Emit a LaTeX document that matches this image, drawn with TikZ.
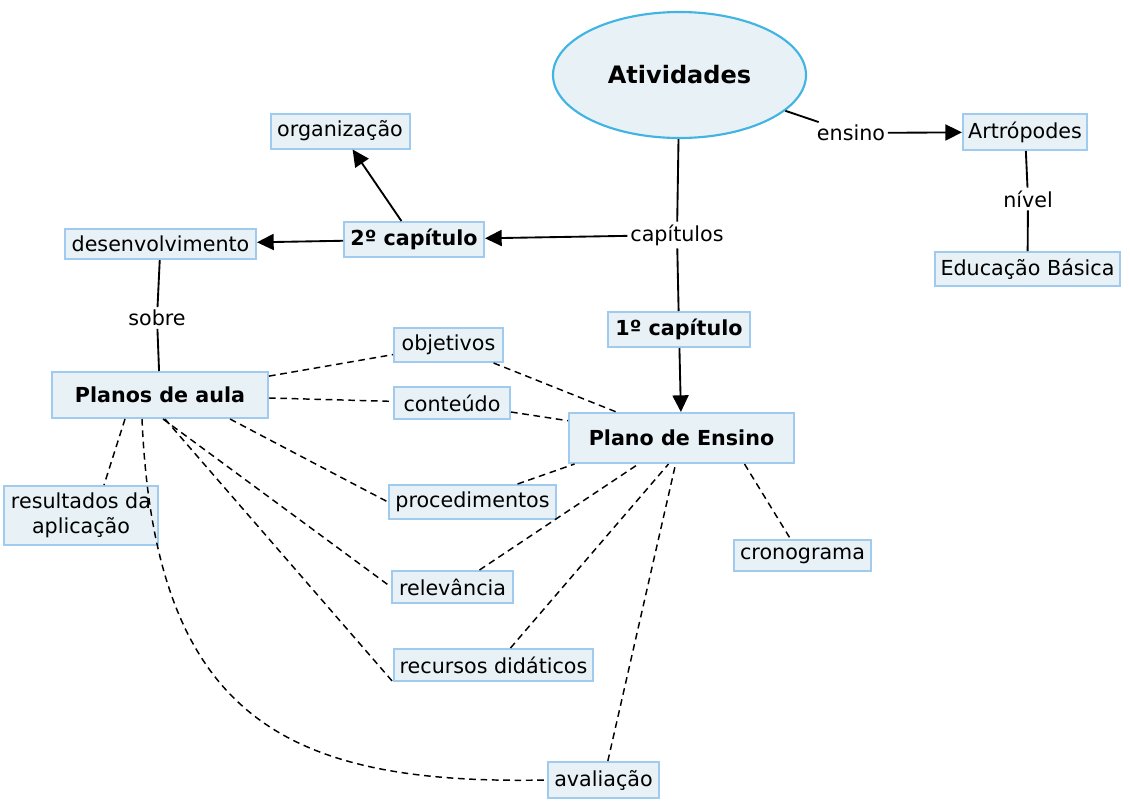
\documentclass[tikz,border=0pt]{standalone}
\usepackage{fontspec}
\setmainfont{DejaVu Sans}
\usetikzlibrary{arrows.meta,shapes.geometric}
\definecolor{boxfill}{HTML}{E8F1F5}
\definecolor{boxline}{HTML}{A0CBEE}
\definecolor{elline}{HTML}{40B4E2}
\begin{document}
\begin{tikzpicture}[x=0.75pt,y=-0.75pt,
  font=\fontsize{15.5}{18.5}\selectfont,
  box/.style={draw=boxline, fill=boxfill, line width=1.5pt, inner sep=0pt, align=center},
  sz/.style 2 args={minimum width=#1*0.75pt, minimum height=#2*0.75pt},
  bf/.style={font=\fontsize{15.5}{18.5}\selectfont\bfseries},
  lbl/.style={inner sep=2pt},
  con/.style={line width=1.4pt},
  arr/.style={con, -{Triangle[length=12.5pt,width=12pt]}},
  dsh/.style={line width=1.1pt, dash pattern=on 5pt off 3.5pt}
]
\useasboundingbox (0,0) rectangle (1130,800);

% nodes
\node[ellipse, draw=elline, fill=boxfill, line width=1.6pt, inner sep=0pt,
      sz={253}{126}, font=\fontsize{18}{21}\selectfont\bfseries] (ativ) at (679.5,75) {Atividades};
\node[box, sz={124}{36}] (art) at (1025,132) {Artrópodes};
\node[box, sz={185}{34}] (edu) at (1027.5,269) {Educação Básica};
\node[box, sz={139}{35}] (org) at (340,131) {organização};
\node[box, bf, sz={140}{35}] (cap2) at (414,239.5) {2º capítulo};
\node[box, sz={191}{30}] (des) at (160.5,244) {desenvolvimento};
\node[box, bf, sz={142}{35}] (cap1) at (679,329.5) {1º capítulo};
\node[box, bf, sz={225}{50}] (PE) at (681.5,438) {Plano de Ensino};
\node[box, bf, sz={216}{46}] (pa) at (160,395) {Planos de aula};
\node[box, sz={109}{34}] (obj) at (448.5,345) {objetivos};
\node[box, sz={116}{32}] (cont) at (452,403) {conteúdo};
\node[box, sz={167}{34}] (proc) at (472.5,502) {procedimentos};
\node[box, sz={121}{32}] (rel) at (452.5,587) {relevância};
\node[box, sz={199}{32}] (rec) at (493.5,665) {recursos didáticos};
\node[box, sz={111}{36}] (aval) at (603.5,780) {avaliação};
\node[box, sz={137}{31}] (cron) at (802.5,555.5) {cronograma};
\node[box, sz={154}{59}] (res) at (81,515.5) {resultados da\\aplicação};

% linking phrases
\node[lbl] (capitulos) at (677,235) {capítulos};
\node[lbl] (ensino) at (851,133) {ensino};
\node[lbl] (nivel) at (1028,199) {nível};
\node[lbl] (sobre) at (157,318) {sobre};

% solid connectors
\draw[con] (ativ) -- (capitulos);
\draw[arr] (capitulos) -- (cap2);
\draw[con] (capitulos) -- (cap1);
\draw[arr] (cap1) -- (PE);
\draw[arr] (cap2) -- (org);
\draw[arr] (cap2) -- (des);
\draw[con] (des) -- (sobre);
\draw[con] (sobre) -- (pa);
\draw[con] (ativ) -- (ensino);
\draw[arr] (ensino) -- (art);
\draw[con] (art) -- (nivel);
\draw[con] (nivel) -- (edu);

% dashed cross links
\draw[dsh] (pa) -- (obj);
\draw[dsh] (obj) -- (PE);
\draw[dsh] (pa) -- (cont);
\draw[dsh] (cont) -- (PE);
\draw[dsh] ([shift={(70,0)}]pa.south) -- (proc.west);
\draw[dsh] ([shift={(45,0)}]proc.north) -- ([shift={(-107,0)}]PE.south);
\draw[dsh] ([shift={(3,0)}]pa.south) -- (rel.west);
\draw[dsh] ([shift={(27,0)}]rel.north) -- ([shift={(-43,0)}]PE.south);
\draw[dsh] ([shift={(5,0)}]pa.south) -- (rec.south west);
\draw[dsh] ([shift={(17,0)}]rec.north) -- ([shift={(-13,0)}]PE.south);
\draw[dsh] ([shift={(-18,0)}]pa.south) .. controls +(13,302) and +(-258,5) .. (aval.west);
\draw[dsh] (aval) -- (PE);
\draw[dsh] ([shift={(63,0)}]PE.south) -- ([shift={(-12,0)}]cron.north);
\draw[dsh] ([shift={(-35,0)}]pa.south) -- ([shift={(23,0)}]res.north);
\end{tikzpicture}
\end{document}
